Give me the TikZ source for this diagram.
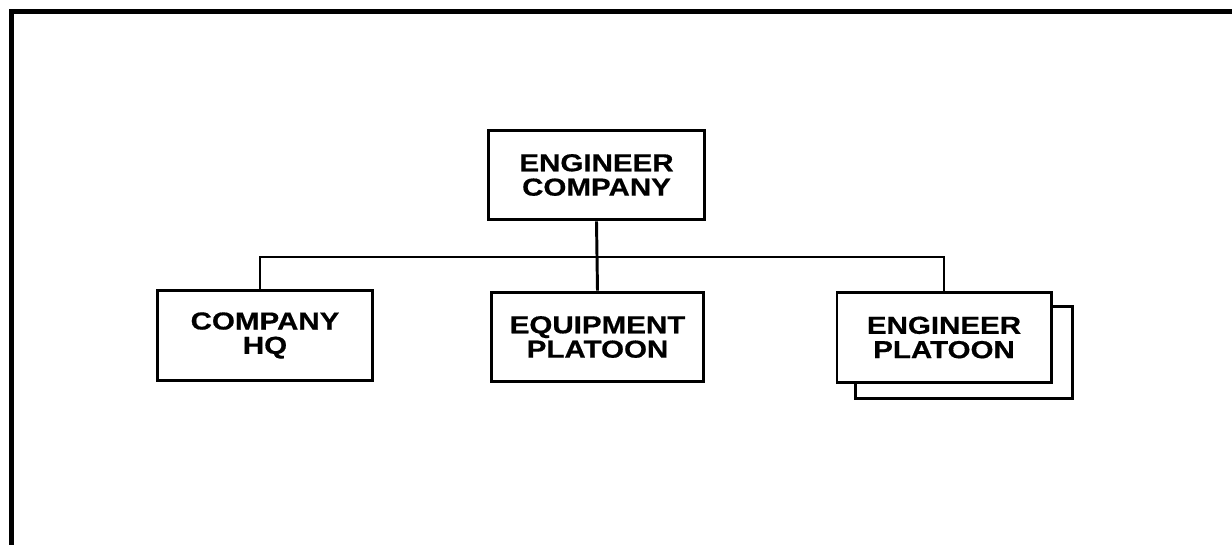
\documentclass[tikz,border=0pt]{standalone}
\usepackage{fontspec}
\usepackage{tikz}
\newfontfamily\orgfont[FakeStretch=1.2,FakeBold=0.6]{Liberation Sans Bold}

\tikzset{
  unit/.style={draw=black, fill=white, line width=2.1pt, align=center,
    minimum width=5.38cm, minimum height=2.24cm, inner sep=0pt,
    font=\orgfont\fontsize{17.5}{17.3}\selectfont},
  link/.style={draw=black, line width=2.1pt}
}

\begin{document}
\begin{tikzpicture}[x=0.025cm, y=-0.025cm]

  \useasboundingbox (0,0) rectangle (1232,545);

  % -- the frame: only the top and left sides are on the sheet ------------
  \draw[line width=3.6pt] (11.5,545) -- (11.5,11.5) -- (1232,11.5);

  % -- the company and its three elements ---------------------------------
  \node[unit] (coy) at (596.5,175) {ENGINEER\\COMPANY};
  \node[unit] (hq) at (265,335.5) {COMPANY\\HQ};
  \node[unit, minimum width=5.28cm] (eqp) at (597.5,337) {EQUIPMENT\\PLATOON};
  \node[unit, minimum width=5.42cm, minimum height=2.28cm] (eplshadow) at (964,352.5) {};
  \node[unit, minimum width=5.35cm] (epl) at (944,337.5) {ENGINEER\\PLATOON};

  % -- lines of command ---------------------------------------------------
  \coordinate (bus) at (597,257);
  \draw[link] (coy.south) -- (eqp.north);
  \draw[link] ([xshift=-0.125cm]hq.north) |- (bus) -| (epl.north);

\end{tikzpicture}
\end{document}
